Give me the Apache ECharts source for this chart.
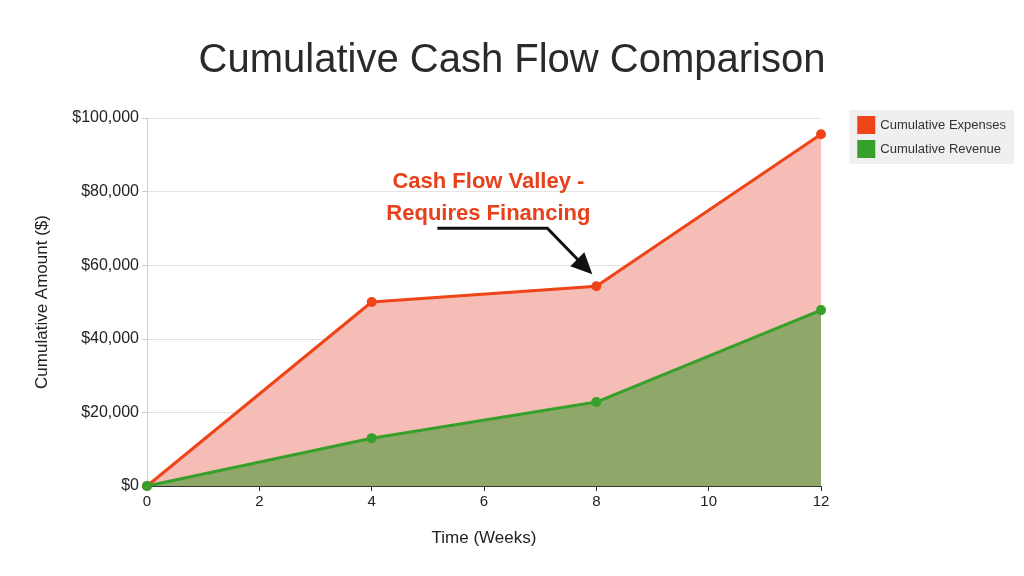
<!DOCTYPE html>
<html><head><meta charset="utf-8">
<script src="https://cdn.jsdelivr.net/npm/echarts@6/dist/echarts.min.js"></script>
<style>html,body{margin:0;background:#fff}#c{width:1024px;height:576px}</style>
</head><body><div id="c"></div>
<script>
const weeks = [0, 4, 8, 12];
const expenses = [0, 50000, 54300, 95600];
const revenue = [0, 13000, 22800, 47800];
const chart = echarts.init(document.getElementById('c'));
const pair = a => weeks.map((w, i) => [w, a[i]]);
chart.setOption({
  animation: false,
  title: { text: 'Cumulative Cash Flow Comparison', left: 'center', top: 36,
    textStyle: { fontFamily: 'Liberation Sans', fontSize: 40, fontWeight: 'normal', color: '#2a2a2a' } },
  legend: { orient: 'vertical', right: 10, top: 110, itemWidth: 18, itemHeight: 18, icon: 'rect',
    backgroundColor: '#efefef', padding: [6, 8], itemGap: 6,
    textStyle: { fontFamily: 'Liberation Sans', fontSize: 13, color: '#333' } },
  grid: { left: 147, right: 203, top: 118, bottom: 90 },
  xAxis: { type: 'value', min: 0, max: 12, interval: 2, name: 'Time (Weeks)', nameLocation: 'middle', nameGap: 44,
    nameTextStyle: { fontFamily: 'Liberation Sans', fontSize: 17, color: '#222' },
    axisLine: { lineStyle: { color: '#333' } }, axisTick: { show: true, lineStyle: { color: '#333' } },
    splitLine: { show: false }, axisLabel: { fontFamily: 'Liberation Sans', fontSize: 15, color: '#222' } },
  yAxis: { type: 'value', min: 0, max: 100000, interval: 20000, name: 'Cumulative Amount ($)', nameLocation: 'middle', nameGap: 96,
    nameTextStyle: { fontFamily: 'Liberation Sans', fontSize: 17, color: '#222' },
    axisLine: { show: true, lineStyle: { color: '#ccc' } },
    splitLine: { lineStyle: { color: '#e2e2e2' } },
    axisLabel: { fontFamily: 'Liberation Sans', fontSize: 16, color: '#222', formatter: v => '$' + v.toLocaleString('en-US') } },
  series: [
    { name: 'Cumulative Expenses', type: 'line', data: pair(expenses), color: '#ee4418',
      lineStyle: { width: 3 }, symbol: 'circle', symbolSize: 10,
      areaStyle: { color: '#f5bdb5', opacity: 1 }, z: 2 },
    { name: 'Cumulative Revenue', type: 'line', data: pair(revenue), color: '#36a02a',
      lineStyle: { width: 3 }, symbol: 'circle', symbolSize: 10,
      areaStyle: { color: '#8fa86a', opacity: 1 }, z: 3 }
  ]
});
const tip = chart.convertToPixel({ gridIndex: 0 }, [8, expenses[2]]);
const tx = tip[0] - 4, ty = tip[1] - 12;
chart.setOption({ graphic: [
  { type: 'text', left: tip[0] - 100 - 110, top: tip[1] - 120, style: { text: 'Cash Flow Valley -\nRequires Financing',
    fill: '#e8401a', font: 'bold 22px Liberation Sans', textAlign: 'center', lineHeight: 32, x: 110 } },
  { type: 'polyline', shape: { points: [[tx - 155, ty - 46], [tx - 45, ty - 46], [tx - 12, ty - 12]] },
    style: { stroke: '#111', lineWidth: 3, fill: null } },
  { type: 'polygon', shape: { points: [[tx, ty], [tx - 22, ty - 8], [tx - 8, ty - 22]] }, style: { fill: '#111' } }
]});
</script></body></html>
